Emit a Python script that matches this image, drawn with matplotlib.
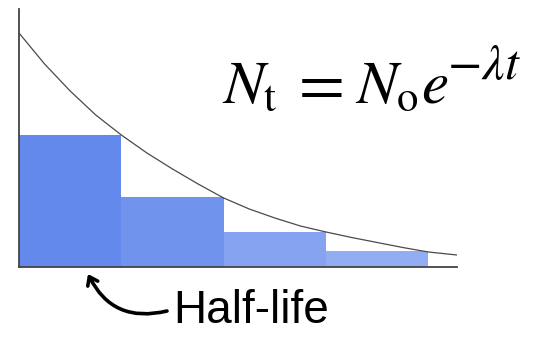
import matplotlib
matplotlib.use("Agg")
import matplotlib.pyplot as plt

# Data (units: x in half-lives, y in arbitrary amount)
bar_starts = [0, 1, 2, 3]
bar_heights = [132, 70, 35, 16]
bar_colors = ["#6489ec", "#7093ee", "#86a3f1", "#93adf2"]

curve_t = [0, 0.25, 0.5, 0.75, 1, 1.25, 1.5, 1.75, 2, 2.25, 2.5, 2.75,
           3, 3.25, 3.5, 3.75, 4, 4.28]
curve_n = [234, 203, 176, 152, 132, 114, 98, 83, 69, 58, 49, 41,
           35, 29.5, 24.5, 19.5, 15, 12]

label = "Half-life"

plt.rcParams["mathtext.fontset"] = "stix"

fig = plt.figure(figsize=(5.44, 3.41), dpi=100)
ax = fig.add_axes([19 / 544, 1 - 267 / 341, (457 - 19) / 544, (267 - 9) / 341])

ax.bar(bar_starts, bar_heights, width=1.0, align="edge", color=bar_colors,
       edgecolor="none", zorder=1)
ax.plot(curve_t, curve_n, color="#4a4a4a", lw=0.9, zorder=2)

ax.set_xlim(0, 4.28)
ax.set_ylim(0, 258)
for s in ["top", "right"]:
    ax.spines[s].set_visible(False)
for s in ["left", "bottom"]:
    ax.spines[s].set_color("#444444")
    ax.spines[s].set_linewidth(1.3)
ax.set_xticks([])
ax.set_yticks([])

# Equation pieces
fig.text(222 / 544, 1 - 103 / 341, r"$N_\mathrm{t}$", fontsize=44,
         ha="left", va="baseline")
fig.text(316 / 544, 1 - 103 / 341, r"$=$", fontsize=48,
         ha="center", va="baseline")
fig.text(355 / 544, 1 - 103 / 341, r"$N_\mathrm{o}e$", fontsize=44,
         ha="left", va="baseline")
fig.text(447 / 544, 1 - 79 / 341, r"$-\lambda t$", fontsize=36,
         ha="left", va="baseline")

fig.text(173 / 544, 1 - 323 / 341, label, fontsize=33, ha="left",
         va="baseline", family="Liberation Sans", color="black")

ax.annotate("", xy=(88, 341 - 274), xycoords="figure pixels",
            xytext=(167, 341 - 311), textcoords="figure pixels",
            arrowprops=dict(arrowstyle="->,head_length=0.55,head_width=0.4",
                            lw=2.6, color="black",
                            connectionstyle="arc3,rad=-0.4",
                            shrinkA=0, shrinkB=0))

fig.savefig("out.png", dpi=100)
